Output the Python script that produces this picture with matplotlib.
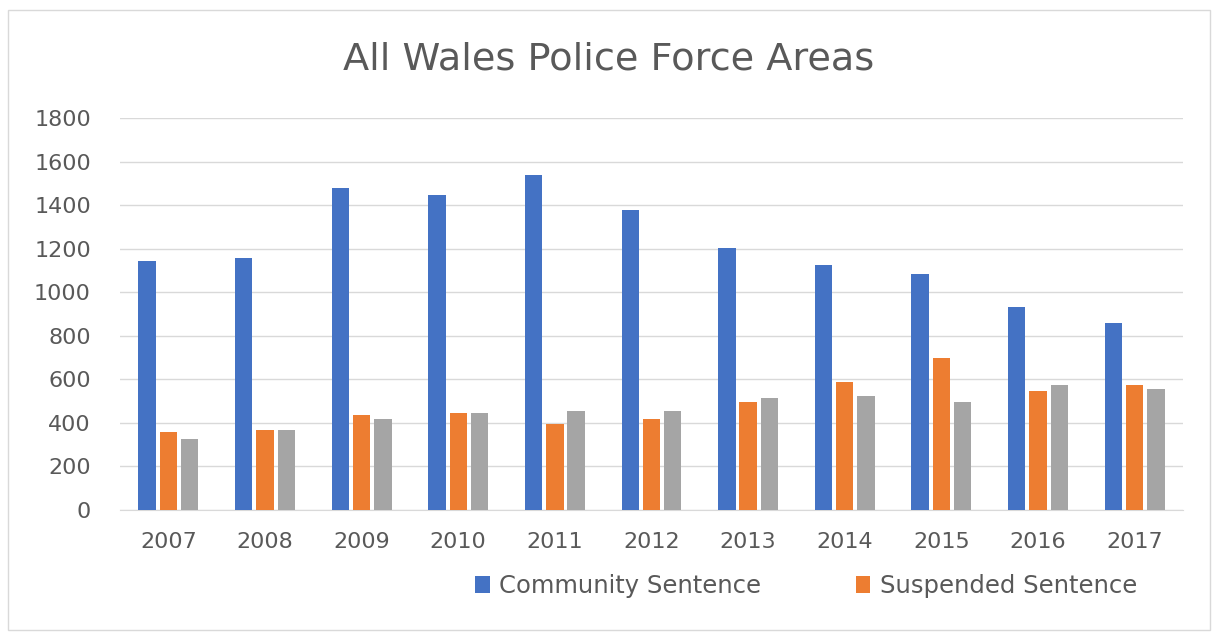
import matplotlib
matplotlib.use("Agg")
import matplotlib.pyplot as plt
import numpy as np
from matplotlib.patches import Rectangle

years = ["2007", "2008", "2009", "2010", "2011", "2012", "2013", "2014", "2015", "2016", "2017"]
community = [1145, 1155, 1477, 1447, 1537, 1377, 1203, 1123, 1082, 930, 860]
suspended = [357, 367, 438, 445, 395, 416, 497, 587, 698, 545, 576]
third = [325, 367, 417, 445, 456, 456, 516, 525, 495, 576, 556]

plt.rcParams['font.family'] = ['DejaVu Sans']
fig = plt.figure(figsize=(12.18, 6.36), dpi=100)
ax = fig.add_axes([120/1218, 1-510/636, (1183-120)/1218, (510-118)/636])

x = np.arange(len(years))
w = 0.18
step = 0.22
ax.bar(x - step, community, w, color='#4472C4', label='Community Sentence', zorder=3)
ax.bar(x, suspended, w, color='#ED7D31', label='Suspended Sentence', zorder=3)
ax.bar(x + step, third, w, color='#A5A5A5', zorder=3)

ax.set_xlim(-0.5, len(years) - 0.5)
ax.set_ylim(0, 1800)
ax.set_yticks(range(0, 1801, 200))
ax.set_xticks(x)
ax.set_xticklabels(years)
ax.grid(axis='y', color='#D9D9D9', linewidth=1, zorder=0)
for s in ['top', 'right', 'left']:
    ax.spines[s].set_visible(False)
ax.spines['bottom'].set_color('#D9D9D9')
ax.tick_params(axis='both', length=0, labelsize=16, colors='#595959')
ax.tick_params(axis='x', pad=16)
ax.tick_params(axis='y', pad=21)

fig.text(0.5, 1-60/636, "All Wales Police Force Areas", ha='center', va='center',
         fontsize=27.5, color='#595959')

handles, labels = ax.get_legend_handles_labels()
fig.legend(handles, labels, loc='center', bbox_to_anchor=(806/1218, 1-586/636), ncol=2,
           frameon=False, fontsize=17.5, labelcolor='#595959', handlelength=0.6,
           handleheight=0.65, handletextpad=0.38, columnspacing=3.9)

fig.patches.append(Rectangle((8/1218, 6/636), 1202/1218, 620/636, transform=fig.transFigure,
                             fill=False, edgecolor='#D9D9D9', linewidth=1))

fig.savefig("out.png", dpi=100, facecolor='white')
